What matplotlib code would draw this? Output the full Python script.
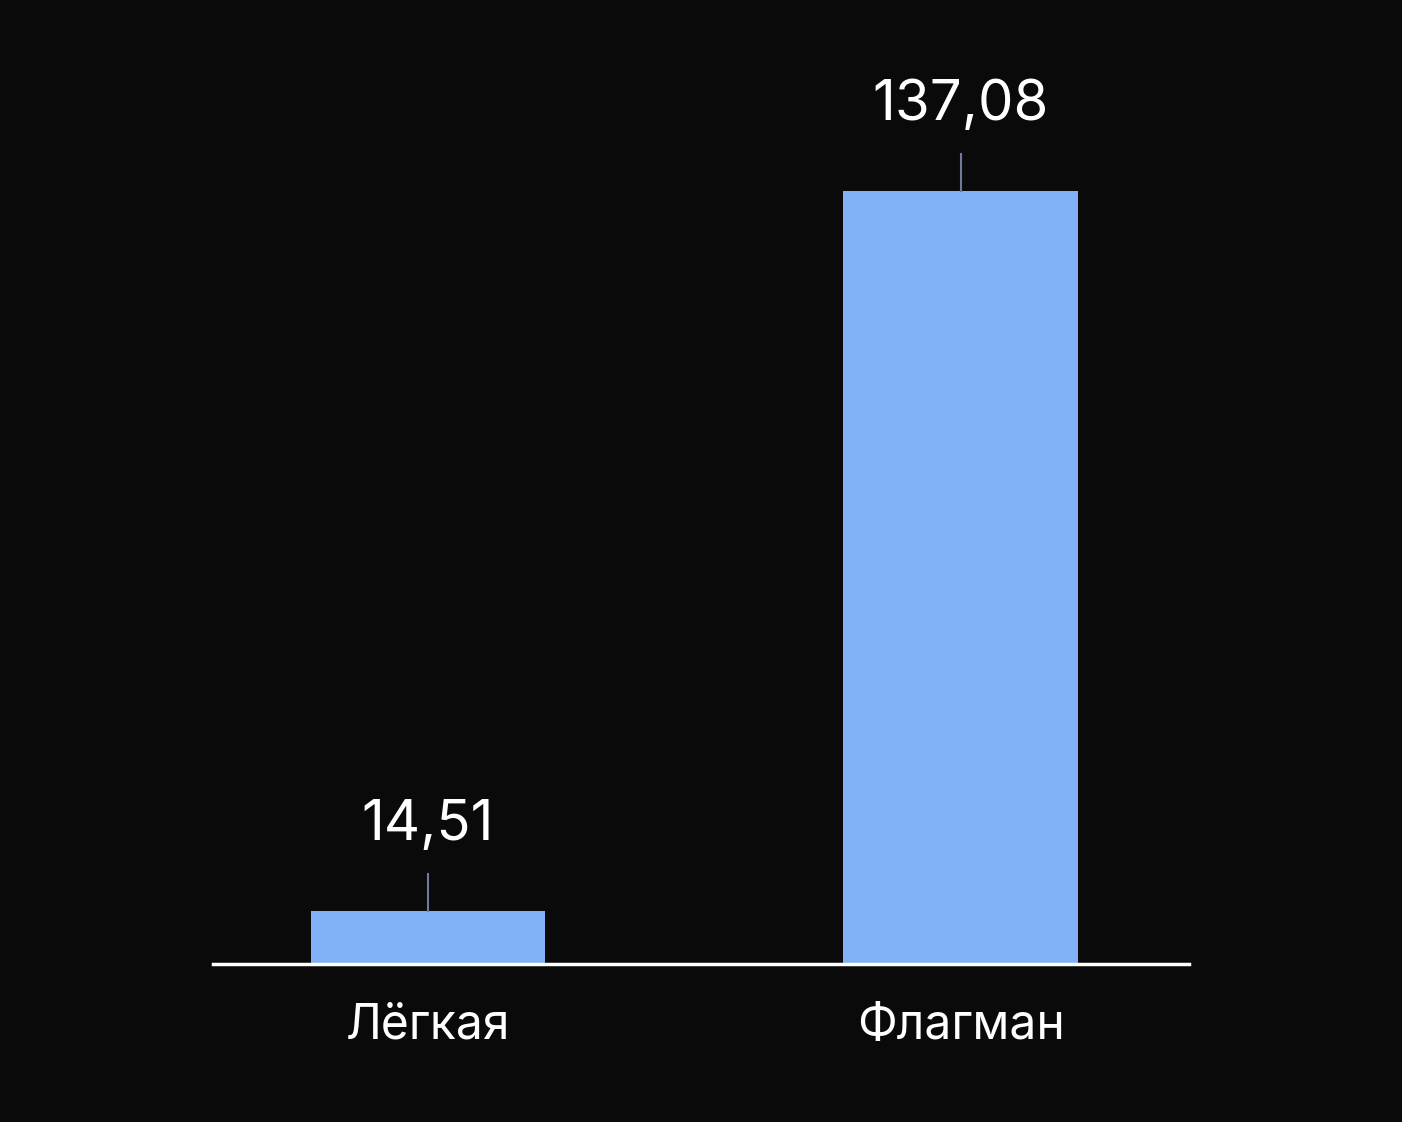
import matplotlib
matplotlib.use("Agg")
import matplotlib.pyplot as plt

categories = ["Лёгкая", "Флагман"]
values = [14.51, 137.08]
value_labels = ["14,51", "137,08"]

plt.rcParams["font.family"] = ["Inter", "DejaVu Sans"]

bg = "#0a0a0b"
bar_color = "#80b0f5"

fig = plt.figure(figsize=(14.02, 11.22), dpi=100, facecolor=bg)
ax = fig.add_axes([213 / 1402, 158 / 1122, 976 / 1402, 914 / 1122])
ax.set_facecolor(bg)

x = list(range(len(categories)))
ax.bar(x, values, width=0.44, color=bar_color, zorder=2)

# axis does not start at zero in the reference
ax.set_xlim(-0.404, 1.429)
ax.set_ylim(5.49, 161.1)

for xi, v, lab in zip(x, values, value_labels):
    ax.plot([xi, xi], [v, v + 6.3], color="#6e7c98", lw=1.5, zorder=3)
    ax.text(xi, v + 10.2, lab, ha="center", va="bottom", color="white",
            fontsize=40.5)

for s in ["top", "right", "left"]:
    ax.spines[s].set_visible(False)
ax.spines["bottom"].set_color("white")
ax.spines["bottom"].set_linewidth(2.5)
ax.spines["bottom"].set_zorder(4)

ax.set_yticks([])
ax.set_xticks(x)
ax.set_xticklabels(categories, color="white", fontsize=34.5)
ax.tick_params(axis="x", length=0, pad=28)

fig.savefig("out.png", dpi=100, facecolor=bg)
